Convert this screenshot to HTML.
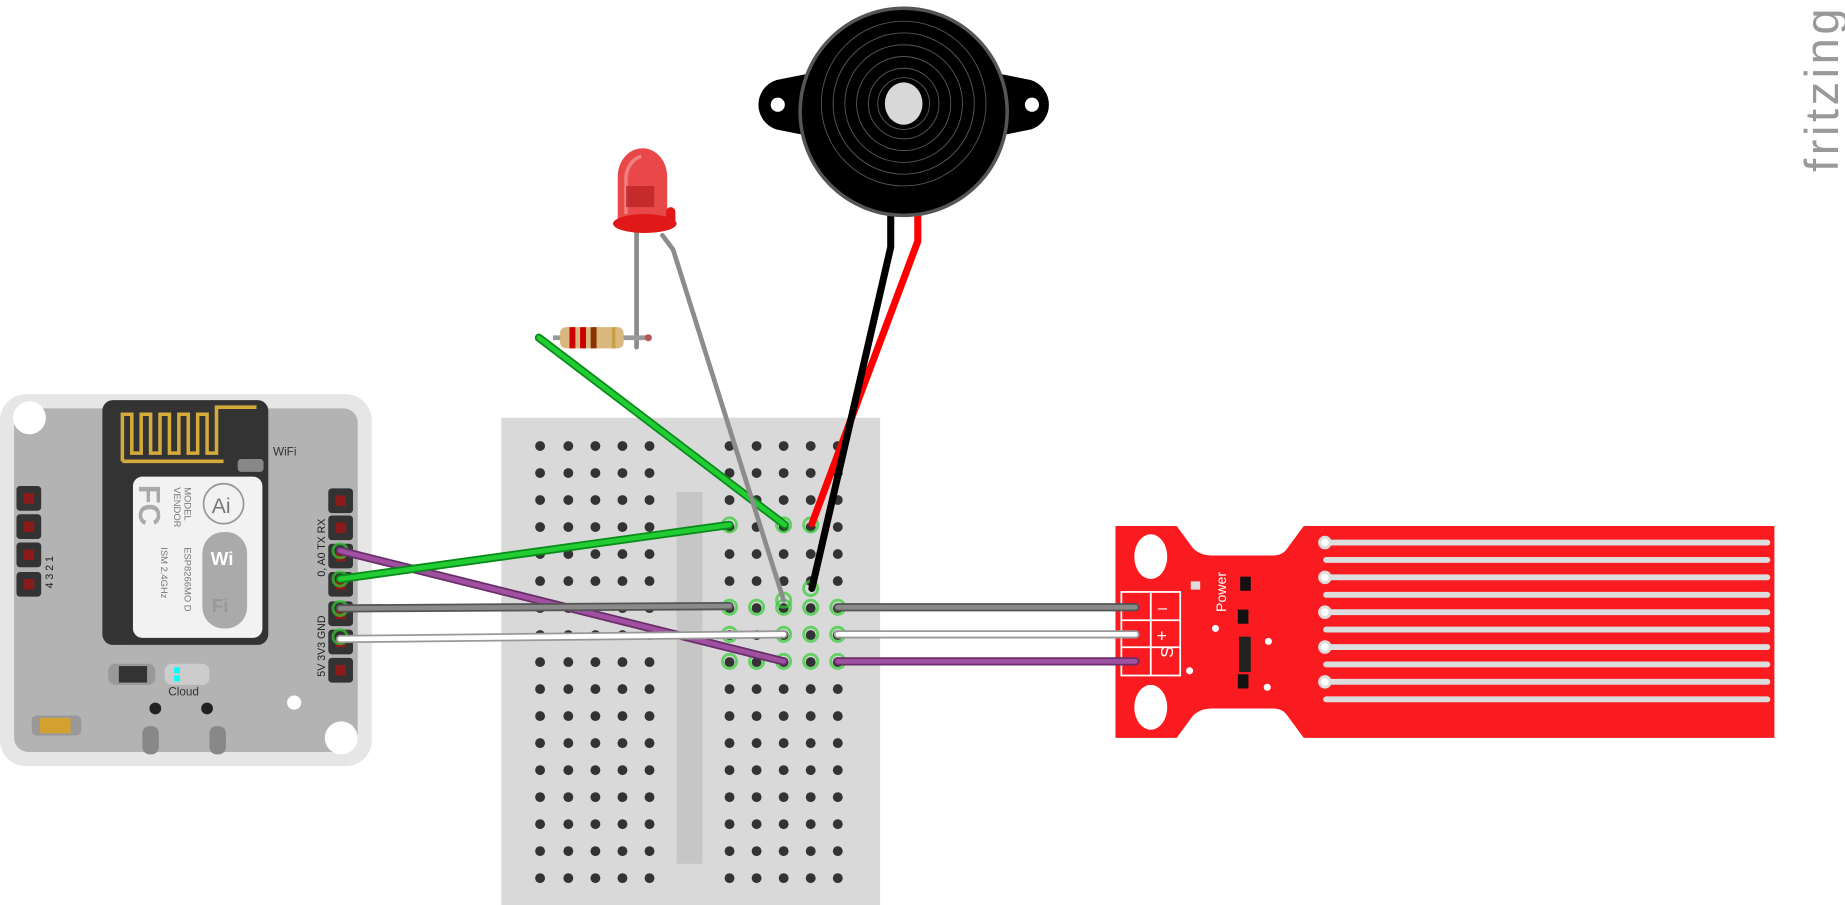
<!DOCTYPE html>
<html><head><meta charset="utf-8"><title>Fritzing breadboard</title>
<style>html,body{margin:0;padding:0;background:#fff;overflow:hidden}svg{display:block}</style></head>
<body>
<svg id="s" width="1845" height="905" viewBox="0 0 1568 769" preserveAspectRatio="none" xmlns="http://www.w3.org/2000/svg" font-family="Liberation Sans, sans-serif">
<rect width="1568" height="769" fill="#fff"/>
<text x="0" y="0" transform="translate(1562,146) rotate(-90)" font-size="40" fill="#999" letter-spacing="3">fritzing</text>

<!-- ESP board -->
<g>
<rect x="0" y="335" width="316" height="316" rx="22" fill="#e6e6e6"/>
<rect x="12" y="347" width="292" height="292" rx="12" fill="#b3b3b3"/>
<circle cx="25" cy="355" r="14" fill="#fff"/>
<circle cx="290" cy="627" r="14" fill="#fff"/>
<circle cx="250" cy="597" r="6" fill="#fff"/>
<rect x="87" y="340" width="141" height="208" rx="9" fill="#333"/>
<path d="M104 392 V352 H112 V385 H120 V352 H128 V385 H136 V352 H144 V385 H152 V352 H160 V385 H168 V352 H176 V385 H184 V346 H218" fill="none" stroke="#d4aa3b" stroke-width="3"/>
<path d="M104 392 H190" stroke="#d4aa3b" stroke-width="3"/>
<rect x="202" y="390" width="22" height="11" rx="3" fill="#888"/>
<text x="232" y="387" font-size="10" fill="#333">WiFi</text>
<rect x="113" y="405" width="110" height="137" rx="8" fill="#f2f2f2"/>
<text transform="translate(118,412) rotate(90)" font-size="26" font-weight="bold" fill="#aaa">FC</text>
<circle cx="190" cy="428" r="17" fill="none" stroke="#999" stroke-width="1.5"/>
<text x="180" y="436" font-size="18" fill="#777">Ai</text>
<rect x="172" y="452" width="38" height="82" rx="18" fill="#aaa"/>
<text x="179" y="480" font-size="16" font-weight="bold" fill="#fff">Wi</text>
<text x="180" y="520" font-size="16" font-weight="bold" fill="#999">Fi</text>
<text transform="translate(157,414) rotate(90)" font-size="8" fill="#777">MODEL</text>
<text transform="translate(148,414) rotate(90)" font-size="8" fill="#777">VENDOR</text>
<text transform="translate(157,465) rotate(90)" font-size="8" fill="#777">ESP8266MO   D</text>
<text transform="translate(137,465) rotate(90)" font-size="8" fill="#777">ISM     2.4GHz</text>
<rect x="92" y="564" width="40" height="18" rx="6" fill="#999"/>
<rect x="101" y="566" width="24" height="14" fill="#333"/>
<rect x="140" y="564" width="38" height="18" rx="6" fill="#ccc"/>
<rect x="148" y="567" width="5" height="5" fill="#0ff"/>
<rect x="148" y="574" width="5" height="5" fill="#0ff"/>
<text x="143" y="591" font-size="10" fill="#333">Cloud</text>
<circle cx="132" cy="602" r="5" fill="#222"/><circle cx="176" cy="602" r="5" fill="#222"/>
<rect x="121" y="617" width="14" height="24" rx="6" fill="#888"/>
<rect x="178" y="617" width="14" height="24" rx="6" fill="#888"/>
<rect x="27" y="608" width="42" height="17" rx="4" fill="#999"/>
<rect x="34" y="610" width="26" height="13" fill="#d4a030"/>
<text transform="translate(276,490) rotate(-90)" font-size="9" fill="#222">0, A0 TX RX</text>
<text transform="translate(276,575) rotate(-90)" font-size="9" fill="#222">5V 3V3 GND</text>
<text transform="translate(45,500) rotate(-90)" font-size="9" fill="#222">4  3  2  1</text>
</g>
<g id="hdr"></g>

<!-- Breadboard -->
<g>
<rect x="426" y="355" width="322" height="414" fill="#d9d9d9"/>
<rect x="575" y="418" width="22" height="316" fill="#c6c6c6"/>
</g>
<g id="holes"></g>

<!-- Water sensor -->
<g>
<path d="M948 447 H1000 L1014 466 Q1020 472 1030 472 H1082 Q1090 472 1094 466 L1108 447 H1508 V627 H1108 L1094 608 Q1090 602 1082 602 H1030 Q1020 602 1014 608 L1000 627 H948 Z" fill="#f91b1f"/>
<ellipse cx="978" cy="473" rx="14" ry="19" fill="#fff"/>
<ellipse cx="978" cy="601" rx="14" ry="19" fill="#fff"/>
<rect x="953" y="503" width="50" height="71" fill="none" stroke="#fff" stroke-width="1.5"/>
<line x1="978" y1="503" x2="978" y2="574" stroke="#fff" stroke-width="1.5"/>
<line x1="953" y1="527" x2="1003" y2="527" stroke="#fff" stroke-width="1.5"/>
<line x1="953" y1="550" x2="1003" y2="550" stroke="#fff" stroke-width="1.5"/>
<text x="984" y="521" font-size="14" fill="#fff">–</text>
<text x="983" y="545" font-size="15" fill="#fff">+</text>
<text transform="translate(997,559) rotate(-90)" font-size="15" fill="#fff">S</text>
<text transform="translate(1042,520) rotate(-90)" font-size="12" fill="#fff">Power</text>
<rect x="1012" y="494" width="8" height="7" fill="#ddd"/>
<rect x="1054" y="490" width="9" height="12" fill="#111"/>
<rect x="1052" y="518" width="9" height="12" fill="#111"/>
<rect x="1052" y="573" width="9" height="12" fill="#111"/>
<rect x="1053" y="541" width="10" height="30" fill="#222"/>
<circle cx="1033" cy="534" r="3" fill="#fff"/><circle cx="1078" cy="545" r="3" fill="#fff"/>
<circle cx="1011" cy="570" r="3" fill="#fff"/><circle cx="1077" cy="584" r="3" fill="#fff"/>
</g>
<g id="traces"></g>

<!-- Wires -->
<g fill="none" stroke-linecap="round">
<g><polyline points="289,468 666,562" stroke="#6a2f6a" stroke-width="7"/><polyline points="289,468 666,562" stroke="#a050a0" stroke-width="4"/><line x1="712" y1="562" x2="965" y2="562" stroke="#6a2f6a" stroke-width="7"/><line x1="712" y1="562" x2="965" y2="562" stroke="#a050a0" stroke-width="4"/></g>
<g><line x1="289" y1="517" x2="620" y2="515" stroke="#555" stroke-width="7"/><line x1="289" y1="517" x2="620" y2="515" stroke="#8a8a8a" stroke-width="4"/><line x1="712" y1="516" x2="965" y2="516" stroke="#555" stroke-width="7"/><line x1="712" y1="516" x2="965" y2="516" stroke="#8a8a8a" stroke-width="4"/></g>
<g><line x1="289" y1="543" x2="666" y2="539" stroke="#999" stroke-width="7"/><line x1="289" y1="543" x2="666" y2="539" stroke="#fff" stroke-width="4"/><line x1="712" y1="539" x2="965" y2="539" stroke="#999" stroke-width="7"/><line x1="712" y1="539" x2="965" y2="539" stroke="#fff" stroke-width="4"/></g>
<g><line x1="289" y1="492" x2="620" y2="446" stroke="#0a8a1a" stroke-width="7"/><line x1="289" y1="492" x2="620" y2="446" stroke="#22cc33" stroke-width="4"/></g>
<g><line x1="458" y1="287" x2="667" y2="446" stroke="#0a8a1a" stroke-width="7"/><line x1="458" y1="287" x2="667" y2="446" stroke="#22cc33" stroke-width="4"/></g>
<polyline points="563,200 572,212 666,510" stroke="#8c8c8c" stroke-width="4"/>
<line x1="541" y1="195" x2="541" y2="295" stroke="#8c8c8c" stroke-width="4"/>
<polyline points="780,180 780,205 690,445" stroke="#ff0000" stroke-width="6"/>
<polyline points="757,180 757,210 690,500" stroke="#000" stroke-width="6"/>
</g>

<!-- Resistor -->
<g>
<line x1="470" y1="287" x2="552" y2="287" stroke="#999" stroke-width="4"/>
<rect x="476" y="278" width="54" height="18" rx="5" fill="#d9b77f"/>
<rect x="484" y="278" width="5" height="18" fill="#c00"/>
<rect x="493" y="278" width="5" height="18" fill="#c00"/>
<rect x="502" y="278" width="5" height="18" fill="#8b3300"/>
<rect x="520" y="278" width="3" height="18" fill="#c9a040"/>
<circle cx="551" cy="287" r="3" fill="#b55"/>
</g>

<!-- LED -->
<g>
<path d="M525 190 V150 A21 24 0 0 1 567 150 V190 Z" fill="#e84848"/>
<ellipse cx="548" cy="190" rx="27" ry="8" fill="#e01818"/>
<rect x="566" y="176" width="8" height="18" rx="4" fill="#e01818"/>
<path d="M532 182 V150 A16 20 0 0 1 545 133" fill="none" stroke="#f59a9a" stroke-width="3" opacity=".7"/>
<rect x="532" y="158" width="24" height="18" fill="#b82020" opacity=".7"/>
</g>

<!-- Buzzer -->
<g>
<path d="M660 68 L700 60 L700 118 L660 110 A22 22 0 0 1 660 68 Z" fill="#000"/>
<path d="M876 68 L836 60 L836 118 L876 110 A22 22 0 0 0 876 68 Z" fill="#000"/>
<circle cx="661" cy="89" r="6" fill="#fff"/>
<circle cx="877" cy="89" r="6" fill="#fff"/>
<ellipse cx="768" cy="95" rx="88" ry="88" fill="#000" stroke="#555" stroke-width="3"/>
<g fill="none" stroke="#555" stroke-width="0.8">
<circle cx="768" cy="88" r="70"/><circle cx="768" cy="88" r="60"/><circle cx="768" cy="88" r="50"/><circle cx="768" cy="88" r="40"/><circle cx="768" cy="88" r="30"/><circle cx="768" cy="88" r="22"/>
</g>
<ellipse cx="768" cy="88" rx="16" ry="18" fill="#d8d8d8"/>
</g>
</svg>
<script>
const NS='http://www.w3.org/2000/svg';
const holes=document.getElementById('holes');
const cols=[459,483,506,529,552,620,643,666,689,712];
for(let r=0;r<17;r++){for(const x of cols){const y=379+r*22.95;
const c=document.createElementNS(NS,'circle');


c.setAttribute('cx',x);c.setAttribute('cy',y);c.setAttribute('r',4.2);c.setAttribute('fill','#333');holes.appendChild(c);}}
const used=[[620,446],[666,446],[689,446],[620,516],[643,516],[666,516],[689,516],[712,516],[620,539],[666,539],[689,539],[712,539],[620,562],[643,562],[666,562],[689,562],[712,562],[689,500],[666,510],[965,516],[965,539],[965,562],[289,468],[289,492],[289,517],[289,541]];
for(const [x,y] of used){const c=document.createElementNS(NS,'circle');


c.setAttribute('cx',x);c.setAttribute('cy',y);c.setAttribute('r',6);c.setAttribute('fill','none');c.setAttribute('stroke','#3c3');c.setAttribute('stroke-width','2.5');c.setAttribute('opacity','.7');holes.appendChild(c);}
const hdr=document.getElementById('hdr');
const hp=[[14,413],[14,437],[14,461],[14,486],[279,415],[279,438],[279,462],[279,486],[279,511],[279,535],[279,559]];
for(const [x,y] of hp){const g=document.createElementNS(NS,'rect');


g.setAttribute('x',x);g.setAttribute('y',y);g.setAttribute('width',21);g.setAttribute('height',21);g.setAttribute('rx',3);g.setAttribute('fill','#333');hdr.appendChild(g);
const p=document.createElementNS(NS,'rect');


p.setAttribute('x',x+6);p.setAttribute('y',y+6);p.setAttribute('width',9);p.setAttribute('height',9);p.setAttribute('fill','#8b1a1a');hdr.appendChild(p);}
const tr=document.getElementById('traces');
for(let i=0;i<10;i++){const y=461+i*14.8;const l=document.createElementNS(NS,'line');


l.setAttribute('x1',1127);l.setAttribute('x2',1502);l.setAttribute('y1',y);l.setAttribute('y2',y);l.setAttribute('stroke','#ddd');l.setAttribute('stroke-width',5);l.setAttribute('stroke-linecap','round');tr.appendChild(l);
if(i%2===0){const c=document.createElementNS(NS,'circle');


c.setAttribute('cx',1126);c.setAttribute('cy',y);c.setAttribute('r',4.5);c.setAttribute('fill','#fff');c.setAttribute('stroke','#ddd');c.setAttribute('stroke-width',2.5);tr.appendChild(c);}}
</script>
</body></html>
